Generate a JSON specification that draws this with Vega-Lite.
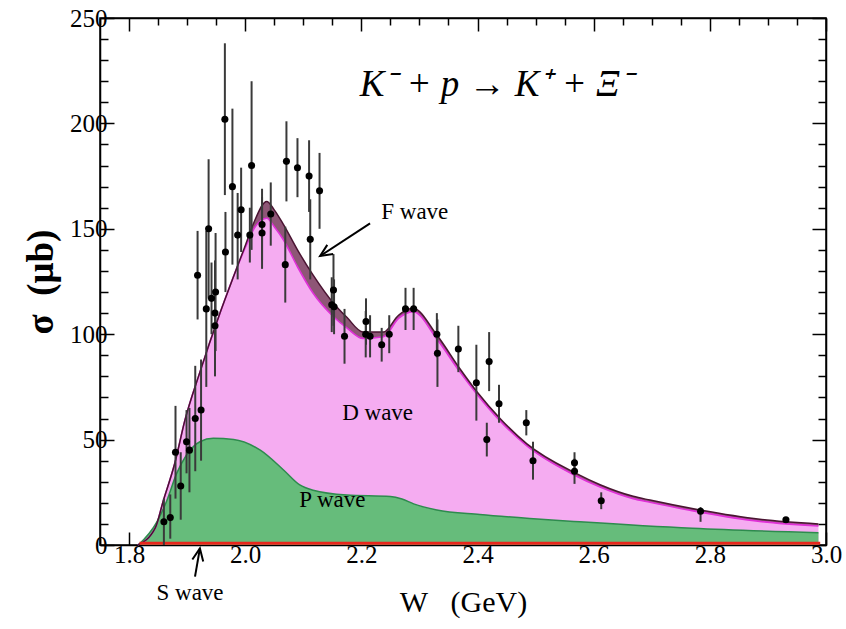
{
  "$schema": "https://vega.github.io/schema/vega-lite/v6.json",
  "width": 726,
  "height": 527,
  "autosize": "none",
  "padding": {"left": 100, "top": 18, "right": 20, "bottom": 84},
  "background": "white",
  "config": {
    "font": "Liberation Serif",
    "view": {"stroke": "black", "strokeWidth": 1.5},
    "axis": {"grid": false, "zindex": 1}
  },
  "datasets": {
    "top": [
      {"W": 1.815, "D": 0, "T": 0},
      {"W": 1.845, "D": 8, "T": 8},
      {"W": 1.859, "D": 21, "T": 21},
      {"W": 1.879, "D": 39, "T": 39},
      {"W": 1.896, "D": 59, "T": 59},
      {"W": 1.922, "D": 82, "T": 82},
      {"W": 1.9566, "D": 110, "T": 110},
      {"W": 1.985, "D": 131, "T": 131},
      {"W": 2.0, "D": 141, "T": 142},
      {"W": 2.015, "D": 150, "T": 153},
      {"W": 2.037, "D": 155, "T": 163},
      {"W": 2.05, "D": 151, "T": 159},
      {"W": 2.066, "D": 144.7, "T": 152},
      {"W": 2.09, "D": 132, "T": 140},
      {"W": 2.117, "D": 119.4, "T": 128},
      {"W": 2.152, "D": 108.3, "T": 114.7},
      {"W": 2.175, "D": 103, "T": 108},
      {"W": 2.203, "D": 98, "T": 101},
      {"W": 2.238, "D": 98.8, "T": 101},
      {"W": 2.264, "D": 107.5, "T": 109},
      {"W": 2.289, "D": 110.7, "T": 112.3},
      {"W": 2.33, "D": 97.7, "T": 99.6},
      {"W": 2.37, "D": 82, "T": 83.5},
      {"W": 2.399, "D": 71.5, "T": 72.7},
      {"W": 2.44, "D": 58.5, "T": 59.7},
      {"W": 2.485, "D": 47, "T": 48},
      {"W": 2.568, "D": 33, "T": 34.2},
      {"W": 2.611, "D": 27.5, "T": 28.6},
      {"W": 2.668, "D": 22, "T": 23.1},
      {"W": 2.697, "D": 20.3, "T": 21.3},
      {"W": 2.783, "D": 15.6, "T": 16.6},
      {"W": 2.886, "D": 11.2, "T": 12.2},
      {"W": 2.987, "D": 9, "T": 10}
    ],
    "pw": [
      {"W": 1.816, "P": 0},
      {"W": 1.848, "P": 11},
      {"W": 1.865, "P": 21},
      {"W": 1.882, "P": 34},
      {"W": 1.899, "P": 42.7},
      {"W": 1.922, "P": 49},
      {"W": 1.945, "P": 50.6},
      {"W": 1.98, "P": 50.1},
      {"W": 2.026, "P": 45},
      {"W": 2.066, "P": 35.6},
      {"W": 2.094, "P": 28.5},
      {"W": 2.117, "P": 26},
      {"W": 2.175, "P": 23.7},
      {"W": 2.25, "P": 23},
      {"W": 2.27, "P": 21.8},
      {"W": 2.29, "P": 19.5},
      {"W": 2.33, "P": 16.6},
      {"W": 2.404, "P": 14.5},
      {"W": 2.49, "P": 12.6},
      {"W": 2.576, "P": 11},
      {"W": 2.77, "P": 7.9},
      {"W": 2.987, "P": 5.8}
    ],
    "sw": [
      {"W": 1.818, "S": 0.8},
      {"W": 2.99, "S": 0.8}
    ],
    "pts": [
      {"W": 1.860, "s": 11, "lo": 0, "hi": 22},
      {"W": 1.871, "s": 13, "lo": 3, "hi": 24},
      {"W": 1.880, "s": 44, "lo": 22, "hi": 66},
      {"W": 1.889, "s": 28, "lo": 12, "hi": 44},
      {"W": 1.899, "s": 49, "lo": 34, "hi": 64},
      {"W": 1.904, "s": 45, "lo": 25, "hi": 65},
      {"W": 1.914, "s": 60, "lo": 35, "hi": 85},
      {"W": 1.924, "s": 64, "lo": 40, "hi": 88},
      {"W": 1.918, "s": 128, "lo": 107, "hi": 149},
      {"W": 1.933, "s": 112, "lo": 75, "hi": 149},
      {"W": 1.937, "s": 150, "lo": 117, "hi": 183},
      {"W": 1.942, "s": 117, "lo": 100, "hi": 134},
      {"W": 1.949, "s": 120, "lo": 92, "hi": 148},
      {"W": 1.948, "s": 110, "lo": 85, "hi": 135},
      {"W": 1.948, "s": 104, "lo": 80, "hi": 128},
      {"W": 1.965, "s": 202, "lo": 166, "hi": 238},
      {"W": 1.966, "s": 139, "lo": 120, "hi": 158},
      {"W": 1.978, "s": 170, "lo": 133, "hi": 207},
      {"W": 1.987, "s": 147, "lo": 126, "hi": 167},
      {"W": 1.993, "s": 159, "lo": 139, "hi": 179},
      {"W": 2.008, "s": 147, "lo": 134, "hi": 160},
      {"W": 2.011, "s": 180, "lo": 140, "hi": 220},
      {"W": 2.029, "s": 152, "lo": 135, "hi": 169},
      {"W": 2.029, "s": 148, "lo": 131, "hi": 165},
      {"W": 2.044, "s": 157, "lo": 142, "hi": 172},
      {"W": 2.069, "s": 133, "lo": 115, "hi": 151},
      {"W": 2.071, "s": 182, "lo": 163, "hi": 201},
      {"W": 2.090, "s": 179, "lo": 165, "hi": 193},
      {"W": 2.110, "s": 175, "lo": 158, "hi": 192},
      {"W": 2.112, "s": 145, "lo": 126, "hi": 164},
      {"W": 2.128, "s": 168, "lo": 150, "hi": 186},
      {"W": 2.152, "s": 121, "lo": 104, "hi": 138},
      {"W": 2.149, "s": 114, "lo": 101, "hi": 127},
      {"W": 2.153, "s": 113, "lo": 100, "hi": 126},
      {"W": 2.171, "s": 99, "lo": 86, "hi": 112},
      {"W": 2.208, "s": 106, "lo": 95, "hi": 117},
      {"W": 2.2075, "s": 100, "lo": 89, "hi": 111},
      {"W": 2.215, "s": 99, "lo": 89, "hi": 109},
      {"W": 2.235, "s": 95, "lo": 87, "hi": 103},
      {"W": 2.248, "s": 100, "lo": 91, "hi": 109},
      {"W": 2.276, "s": 112, "lo": 102, "hi": 122},
      {"W": 2.290, "s": 112, "lo": 102, "hi": 122},
      {"W": 2.330, "s": 100, "lo": 89, "hi": 110},
      {"W": 2.331, "s": 91, "lo": 75, "hi": 107},
      {"W": 2.367, "s": 93, "lo": 82, "hi": 104},
      {"W": 2.398, "s": 77, "lo": 59, "hi": 95},
      {"W": 2.420, "s": 87, "lo": 73, "hi": 101},
      {"W": 2.416, "s": 50, "lo": 42, "hi": 58},
      {"W": 2.437, "s": 67, "lo": 58, "hi": 76},
      {"W": 2.484, "s": 58, "lo": 52, "hi": 64},
      {"W": 2.4955, "s": 40, "lo": 31, "hi": 49},
      {"W": 2.567, "s": 39, "lo": 34, "hi": 44},
      {"W": 2.567, "s": 35, "lo": 29, "hi": 41},
      {"W": 2.613, "s": 21, "lo": 17, "hi": 25},
      {"W": 2.784, "s": 16, "lo": 11, "hi": 18},
      {"W": 2.931, "s": 12, "lo": 11, "hi": 13}
    ],
    "arrows": [
      {"name": "F", "W": 2.215, "s": 152.6, "W2": 2.129, "s2": 137.1},
      {"name": "S", "W": 1.9136, "s": -15, "W2": 1.922, "s2": -1.6}
    ]
  },
  "layer": [
    {
      "data": {"name": "top"},
      "mark": {"type": "area", "color": "#f5acf1", "interpolate": "monotone"},
      "encoding": {
        "x": {
          "field": "W", "type": "quantitative",
          "scale": {"domain": [1.75, 3.0], "nice": false, "zero": false},
          "axis": {
            "orient": "bottom",
            "values": [1.75, 1.8, 1.85, 1.9, 1.95, 2.0, 2.05, 2.1, 2.15, 2.2, 2.25, 2.3, 2.35, 2.4, 2.45, 2.5, 2.55, 2.6, 2.65, 2.7, 2.75, 2.8, 2.85, 2.9, 2.95, 3.0],
            "labelExpr": "abs(datum.value*5 - round(datum.value*5)) < 0.01 ? format(datum.value, '.1f') : ''",
            "tickSize": {"condition": {"test": "abs(datum.value*5 - round(datum.value*5)) < 0.01", "value": -13}, "value": -7},
            "tickColor": "black", "tickWidth": 1.5,
            "domainColor": "black", "domainWidth": 1.5,
            "labelFont": "Liberation Serif", "labelFontSize": 25, "labelColor": "black",
            "labelPadding": 10, "labelFlush": false, "labelOverlap": false,
            "title": "W\u00a0\u00a0\u00a0(GeV)", "titleFont": "Liberation Serif", "titleFontSize": 30,
            "titleFontWeight": "normal", "titleColor": "black", "titlePadding": 14
          }
        },
        "y": {
          "field": "D", "type": "quantitative",
          "scale": {"domain": [0, 250], "nice": false},
          "axis": {
            "orient": "left",
            "values": [0, 10, 20, 30, 40, 50, 60, 70, 80, 90, 100, 110, 120, 130, 140, 150, 160, 170, 180, 190, 200, 210, 220, 230, 240, 250],
            "labelExpr": "datum.value % 50 == 0 ? datum.label : ''",
            "tickSize": {"condition": {"test": "datum.value % 50 == 0", "value": -14}, "value": -8},
            "tickColor": "black", "tickWidth": 1.5,
            "domainColor": "black", "domainWidth": 1.5,
            "labelFont": "Liberation Serif", "labelFontSize": 25, "labelColor": "black",
            "labelPadding": 7, "labelFlush": false, "labelOverlap": false,
            "title": "σ\u00a0\u00a0(μb)", "titleFont": "Liberation Serif", "titleFontSize": 37,
            "titleFontWeight": "bold", "titleColor": "black", "titlePadding": 9
          }
        }
      }
    },
    {
      "data": {"name": "pw"},
      "mark": {"type": "area", "color": "#66bc7b", "interpolate": "monotone"},
      "encoding": {
        "x": {
          "field": "W", "type": "quantitative",
          "axis": {
            "orient": "top",
            "values": [1.75, 1.8, 1.85, 1.9, 1.95, 2.0, 2.05, 2.1, 2.15, 2.2, 2.25, 2.3, 2.35, 2.4, 2.45, 2.5, 2.55, 2.6, 2.65, 2.7, 2.75, 2.8, 2.85, 2.9, 2.95, 3.0],
            "labels": false, "title": null,
            "tickSize": {"condition": {"test": "abs(datum.value*5 - round(datum.value*5)) < 0.01", "value": -13}, "value": -7},
            "tickColor": "black", "tickWidth": 1.5,
            "domainColor": "black", "domainWidth": 1.5
          }
        },
        "y": {
          "field": "P", "type": "quantitative",
          "axis": {
            "orient": "right",
            "values": [0, 10, 20, 30, 40, 50, 60, 70, 80, 90, 100, 110, 120, 130, 140, 150, 160, 170, 180, 190, 200, 210, 220, 230, 240, 250],
            "labels": false, "title": null,
            "tickSize": {"condition": {"test": "datum.value % 50 == 0", "value": -14}, "value": -8},
            "tickColor": "black", "tickWidth": 1.5,
            "domainColor": "black", "domainWidth": 1.5
          }
        }
      }
    },
    {
      "data": {"name": "top"},
      "mark": {"type": "area", "color": "#8e5676", "interpolate": "monotone"},
      "encoding": {
        "x": {"field": "W", "type": "quantitative", "axis": null},
        "y": {"field": "T", "type": "quantitative", "axis": null},
        "y2": {"field": "D"}
      }
    },
    {
      "data": {"name": "top"},
      "mark": {"type": "line", "color": "#e030d8", "strokeWidth": 1.6, "interpolate": "monotone"},
      "encoding": {
        "x": {"field": "W", "type": "quantitative", "axis": null},
        "y": {"field": "D", "type": "quantitative", "axis": null}
      }
    },
    {
      "data": {"name": "pw"},
      "mark": {"type": "line", "color": "#2e8b4e", "strokeWidth": 1.5, "interpolate": "monotone"},
      "encoding": {
        "x": {"field": "W", "type": "quantitative", "axis": null},
        "y": {"field": "P", "type": "quantitative", "axis": null}
      }
    },
    {
      "data": {"name": "top"},
      "mark": {"type": "line", "color": "#4a1432", "strokeWidth": 1.5, "interpolate": "monotone"},
      "encoding": {
        "x": {"field": "W", "type": "quantitative", "axis": null},
        "y": {"field": "T", "type": "quantitative", "axis": null}
      }
    },
    {
      "data": {"name": "sw"},
      "mark": {"type": "line", "color": "#e8261c", "strokeWidth": 3},
      "encoding": {
        "x": {"field": "W", "type": "quantitative", "axis": null},
        "y": {"field": "S", "type": "quantitative", "axis": null}
      }
    },
    {
      "data": {"name": "pts"},
      "mark": {"type": "rule", "color": "#3a3a3a", "strokeWidth": 2},
      "encoding": {
        "x": {"field": "W", "type": "quantitative", "axis": null},
        "y": {"field": "lo", "type": "quantitative", "axis": null},
        "y2": {"field": "hi"}
      }
    },
    {
      "data": {"name": "pts"},
      "mark": {"type": "circle", "color": "black", "size": 50, "opacity": 1},
      "encoding": {
        "x": {"field": "W", "type": "quantitative", "axis": null},
        "y": {"field": "s", "type": "quantitative", "axis": null}
      }
    },
    {
      "data": {"name": "arrows"},
      "mark": {"type": "rule", "color": "black", "strokeWidth": 2},
      "encoding": {
        "x": {"field": "W", "type": "quantitative", "axis": null},
        "y": {"field": "s", "type": "quantitative", "axis": null},
        "x2": {"field": "W2"},
        "y2": {"field": "s2"}
      }
    },
    {
      "data": {"name": "arrows"},
      "transform": [{"filter": "datum.name == 'F'"}],
      "mark": {"type": "point", "shape": "M-0.45,1 L0,0 L0.45,1", "filled": false, "stroke": "black", "strokeWidth": 2, "size": 580, "angle": 237, "opacity": 1},
      "encoding": {
        "x": {"field": "W2", "type": "quantitative", "axis": null},
        "y": {"field": "s2", "type": "quantitative", "axis": null}
      }
    },
    {
      "data": {"name": "arrows"},
      "transform": [{"filter": "datum.name == 'S'"}],
      "mark": {"type": "point", "shape": "M-0.45,1 L0,0 L0.45,1", "filled": false, "stroke": "black", "strokeWidth": 2, "size": 600, "angle": 10, "opacity": 1},
      "encoding": {
        "x": {"field": "W2", "type": "quantitative", "axis": null},
        "y": {"field": "s2", "type": "quantitative", "axis": null}
      }
    },
    {
      "data": {"values": [
        {"W": 2.228, "s": 62.8, "t": "D wave"},
        {"W": 2.150, "s": 21.3, "t": "P wave"},
        {"W": 2.292, "s": 158, "t": "F wave"},
        {"W": 1.905, "s": -22.8, "t": "S wave"}
      ]},
      "mark": {"type": "text", "font": "Liberation Serif", "fontSize": 23, "color": "black", "align": "center", "baseline": "middle"},
      "encoding": {
        "x": {"field": "W", "type": "quantitative", "axis": null},
        "y": {"field": "s", "type": "quantitative", "axis": null},
        "text": {"field": "t"}
      }
    },
    {
      "data": {"values": [{"W": 2.432, "s": 218, "t": "K⁻ + p → K⁺ + Ξ⁻"}]},
      "mark": {"type": "text", "font": "Liberation Serif", "fontSize": 37, "fontStyle": "italic", "color": "black", "align": "center", "baseline": "middle"},
      "encoding": {
        "x": {"field": "W", "type": "quantitative", "axis": null},
        "y": {"field": "s", "type": "quantitative", "axis": null},
        "text": {"field": "t"}
      }
    }
  ],
  "resolve": {"axis": {"x": "independent", "y": "independent"}}
}
